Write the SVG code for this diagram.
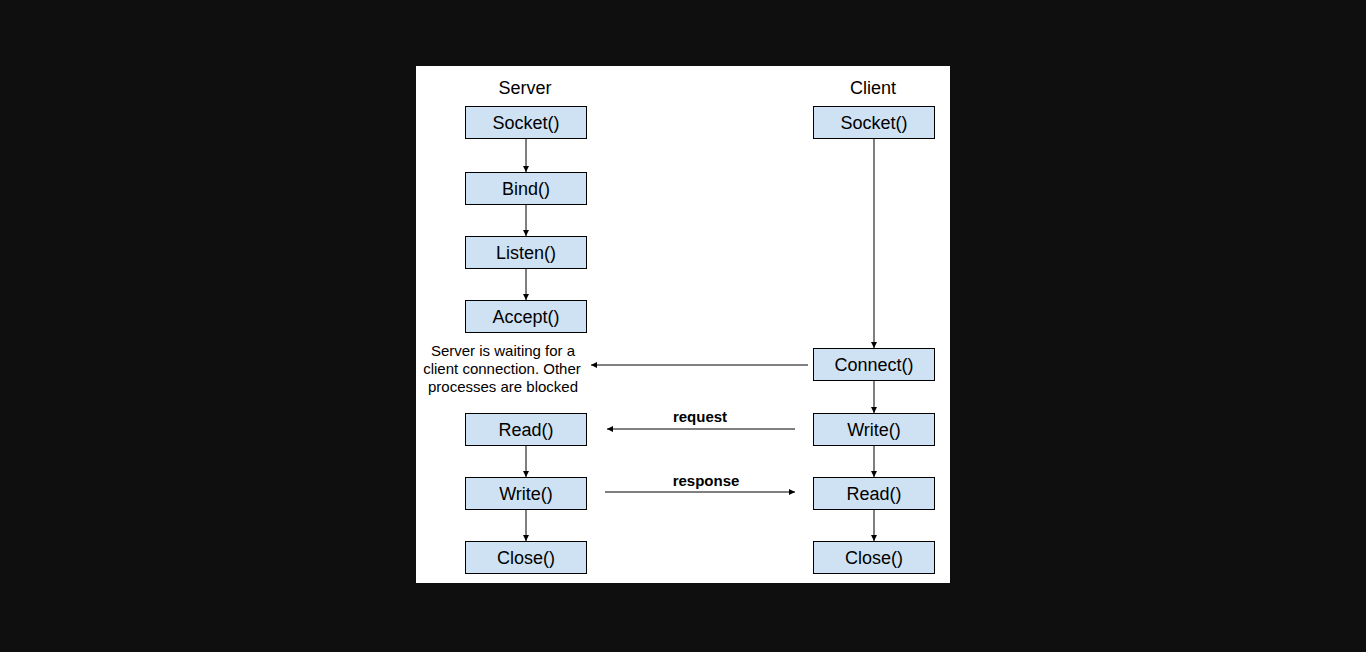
<svg xmlns="http://www.w3.org/2000/svg" width="1366" height="652" viewBox="0 0 1366 652">
<style>
.box{fill:#cfe2f3;stroke:#000;stroke-width:1}
.t{font-family:"Liberation Sans",Arial,sans-serif;font-size:18px;fill:#000;text-anchor:middle}
.n{font-family:"Liberation Sans",Arial,sans-serif;font-size:15px;fill:#000;text-anchor:middle}
.b{font-family:"Liberation Sans",Arial,sans-serif;font-size:15px;font-weight:bold;fill:#000;text-anchor:middle}
.c{stroke:#000;stroke-width:1;fill:none;marker-end:url(#ah)}
</style>
<defs>
<marker id="ah" markerWidth="6" markerHeight="6" refX="6" refY="3" orient="auto" markerUnits="userSpaceOnUse">
<path d="M0,0 L6,3 L0,6 Z" fill="#000"/>
</marker>
</defs>
<rect width="1366" height="652" fill="#0f0f0f"/>
<rect x="416" y="66" width="534" height="517" fill="#fff"/>
<text class="t" x="525" y="94">Server</text>
<text class="t" x="873" y="94">Client</text>
<g id="connectors">
<line class="c" x1="526" y1="138.5" x2="526" y2="172"/>
<line class="c" x1="526" y1="204.5" x2="526" y2="236"/>
<line class="c" x1="526" y1="268.5" x2="526" y2="300"/>
<line class="c" x1="526" y1="445.5" x2="526" y2="477"/>
<line class="c" x1="526" y1="509.5" x2="526" y2="541"/>
<line class="c" x1="874" y1="138.5" x2="874" y2="348"/>
<line class="c" x1="874" y1="380.5" x2="874" y2="413"/>
<line class="c" x1="874" y1="445.5" x2="874" y2="477"/>
<line class="c" x1="874" y1="509.5" x2="874" y2="541"/>
<line class="c" x1="808" y1="365" x2="591" y2="365"/>
<line class="c" x1="795" y1="429" x2="607" y2="429"/>
<line class="c" x1="605" y1="492" x2="795" y2="492"/>
<text class="b" x="700" y="422">request</text>
<text class="b" x="706" y="486">response</text>
</g>
<g id="s-socket"><rect class="box" x="465.5" y="106.5" width="121" height="32"/><text class="t" x="526" y="128.5">Socket()</text></g>
<g id="s-bind"><rect class="box" x="465.5" y="172.5" width="121" height="32"/><text class="t" x="526" y="194.5">Bind()</text></g>
<g id="s-listen"><rect class="box" x="465.5" y="236.5" width="121" height="32"/><text class="t" x="526" y="258.5">Listen()</text></g>
<g id="s-accept"><rect class="box" x="465.5" y="300.5" width="121" height="32"/><text class="t" x="526" y="322.5">Accept()</text></g>
<g id="s-note"><text class="n" x="503" y="356">Server is waiting for a</text><text class="n" x="502" y="374">client connection. Other</text><text class="n" x="503" y="392">processes are blocked</text></g>
<g id="s-read"><rect class="box" x="465.5" y="413.5" width="121" height="32"/><text class="t" x="526" y="435.5">Read()</text></g>
<g id="s-write"><rect class="box" x="465.5" y="477.5" width="121" height="32"/><text class="t" x="526" y="499.5">Write()</text></g>
<g id="s-close"><rect class="box" x="465.5" y="541.5" width="121" height="32"/><text class="t" x="526" y="563.5">Close()</text></g>
<g id="c-socket"><rect class="box" x="813.5" y="106.5" width="121" height="32"/><text class="t" x="874" y="128.5">Socket()</text></g>
<g id="c-connect"><rect class="box" x="813.5" y="348.5" width="121" height="32"/><text class="t" x="874" y="370.5">Connect()</text></g>
<g id="c-write"><rect class="box" x="813.5" y="413.5" width="121" height="32"/><text class="t" x="874" y="435.5">Write()</text></g>
<g id="c-read"><rect class="box" x="813.5" y="477.5" width="121" height="32"/><text class="t" x="874" y="499.5">Read()</text></g>
<g id="c-close"><rect class="box" x="813.5" y="541.5" width="121" height="32"/><text class="t" x="874" y="563.5">Close()</text></g>
</svg>
